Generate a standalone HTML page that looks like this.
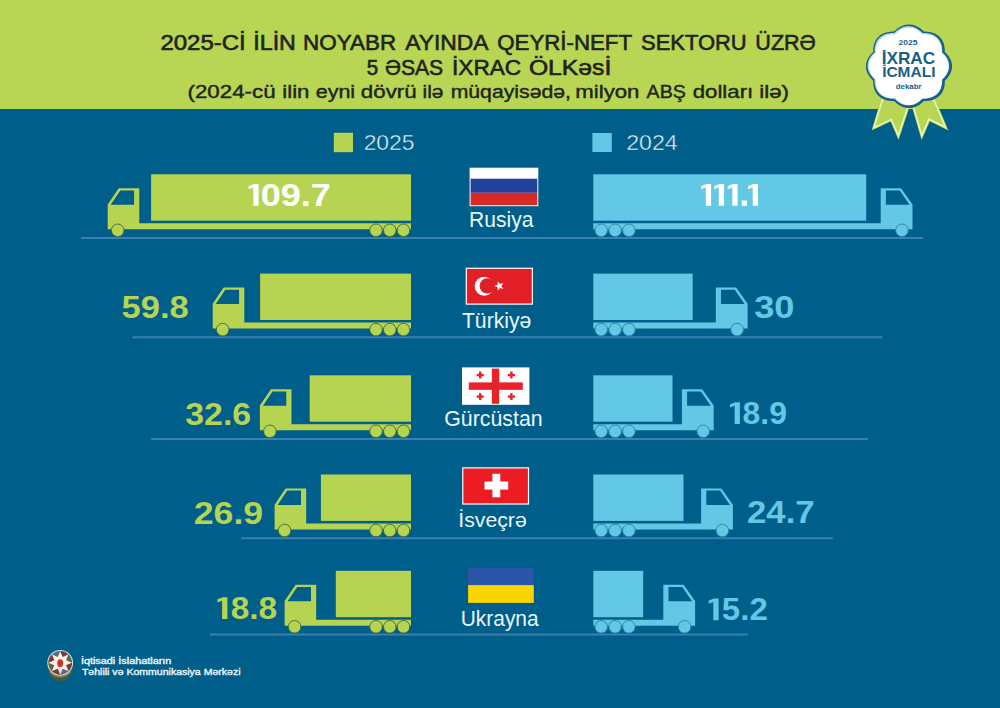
<!DOCTYPE html>
<html><head><meta charset="utf-8"><style>
html,body{margin:0;padding:0;background:#005e8a;}
svg{display:block;}
text{font-family:"Liberation Sans",sans-serif;}
</style></head><body>
<svg width="1000" height="708" viewBox="0 0 1000 708">
<rect x="0" y="0" width="1000" height="708" fill="#005e8a"/>
<rect x="0" y="0" width="1000" height="109" fill="#b8d653"/>
<rect x="333.8" y="132.8" width="19.2" height="19.4" fill="#b6d452"/>
<rect x="592.4" y="133" width="19.4" height="19" fill="#63c8e6"/>
<rect x="81" y="237" width="842" height="2" fill="#3c80af"/>
<rect x="151.1" y="174.3" width="259.9" height="46.4" fill="#b6d452"/>
<path d="M107.7 204.5L118.7 188.2H139.3V223.2H411V229.2H107.7ZM110.7 204.8L120.3 190.4H134.1V204.8Z" fill="#b6d452" fill-rule="evenodd"/>
<circle cx="117.7" cy="230.3" r="6.3" fill="#b6d452" stroke="#3d6a3a" stroke-width="0.9"/>
<circle cx="376" cy="230.3" r="6.3" fill="#b6d452" stroke="#3d6a3a" stroke-width="0.9"/>
<circle cx="389.8" cy="230.3" r="6.3" fill="#b6d452" stroke="#3d6a3a" stroke-width="0.9"/>
<circle cx="403.5" cy="230.3" r="6.3" fill="#b6d452" stroke="#3d6a3a" stroke-width="0.9"/>
<rect x="593.3" y="174.3" width="272.9" height="46.4" fill="#63c8e6"/>
<path d="M912.5 204.5L901 188.2H880.7V223.2H593.3V229.2H912.5ZM909.5 204.8L899.7 190.4H885.9V204.8Z" fill="#63c8e6" fill-rule="evenodd"/>
<circle cx="902" cy="230.3" r="6.3" fill="#63c8e6" stroke="#2f7da5" stroke-width="0.9"/>
<circle cx="601.2" cy="230.3" r="6.3" fill="#63c8e6" stroke="#2f7da5" stroke-width="0.9"/>
<circle cx="615.1" cy="230.3" r="6.3" fill="#63c8e6" stroke="#2f7da5" stroke-width="0.9"/>
<circle cx="628.9" cy="230.3" r="6.3" fill="#63c8e6" stroke="#2f7da5" stroke-width="0.9"/>
<rect x="132.4" y="336.3" width="750" height="2" fill="#3c80af"/>
<rect x="260.1" y="273.6" width="150.9" height="46.4" fill="#b6d452"/>
<path d="M212.7 303.8L223.7 287.5H244.3V322.5H411V328.5H212.7ZM215.7 304.1L225.3 289.7H239.1V304.1Z" fill="#b6d452" fill-rule="evenodd"/>
<circle cx="222.7" cy="329.6" r="6.3" fill="#b6d452" stroke="#3d6a3a" stroke-width="0.9"/>
<circle cx="376" cy="329.6" r="6.3" fill="#b6d452" stroke="#3d6a3a" stroke-width="0.9"/>
<circle cx="389.8" cy="329.6" r="6.3" fill="#b6d452" stroke="#3d6a3a" stroke-width="0.9"/>
<circle cx="403.5" cy="329.6" r="6.3" fill="#b6d452" stroke="#3d6a3a" stroke-width="0.9"/>
<rect x="593.3" y="273.6" width="99.4" height="46.4" fill="#63c8e6"/>
<path d="M747.6 303.8L736.1 287.5H715.8V322.5H593.3V328.5H747.6ZM744.6 304.1L734.8 289.7H721V304.1Z" fill="#63c8e6" fill-rule="evenodd"/>
<circle cx="737.1" cy="329.6" r="6.3" fill="#63c8e6" stroke="#2f7da5" stroke-width="0.9"/>
<circle cx="601.2" cy="329.6" r="6.3" fill="#63c8e6" stroke="#2f7da5" stroke-width="0.9"/>
<circle cx="615.1" cy="329.6" r="6.3" fill="#63c8e6" stroke="#2f7da5" stroke-width="0.9"/>
<circle cx="628.9" cy="329.6" r="6.3" fill="#63c8e6" stroke="#2f7da5" stroke-width="0.9"/>
<rect x="151.1" y="438" width="716.9" height="2" fill="#3c80af"/>
<rect x="309.7" y="375.3" width="101.3" height="46.4" fill="#b6d452"/>
<path d="M259.9 405.5L270.9 389.2H291.5V424.2H411V430.2H259.9ZM262.9 405.8L272.5 391.4H286.3V405.8Z" fill="#b6d452" fill-rule="evenodd"/>
<circle cx="269.9" cy="431.3" r="6.3" fill="#b6d452" stroke="#3d6a3a" stroke-width="0.9"/>
<circle cx="376" cy="431.3" r="6.3" fill="#b6d452" stroke="#3d6a3a" stroke-width="0.9"/>
<circle cx="389.8" cy="431.3" r="6.3" fill="#b6d452" stroke="#3d6a3a" stroke-width="0.9"/>
<circle cx="403.5" cy="431.3" r="6.3" fill="#b6d452" stroke="#3d6a3a" stroke-width="0.9"/>
<rect x="593.3" y="375.3" width="79.2" height="46.4" fill="#63c8e6"/>
<path d="M713.7 405.5L702.2 389.2H681.9V424.2H593.3V430.2H713.7ZM710.7 405.8L700.9 391.4H687.1V405.8Z" fill="#63c8e6" fill-rule="evenodd"/>
<circle cx="703.2" cy="431.3" r="6.3" fill="#63c8e6" stroke="#2f7da5" stroke-width="0.9"/>
<circle cx="601.2" cy="431.3" r="6.3" fill="#63c8e6" stroke="#2f7da5" stroke-width="0.9"/>
<circle cx="615.1" cy="431.3" r="6.3" fill="#63c8e6" stroke="#2f7da5" stroke-width="0.9"/>
<circle cx="628.9" cy="431.3" r="6.3" fill="#63c8e6" stroke="#2f7da5" stroke-width="0.9"/>
<rect x="241" y="537.2" width="591.7" height="2" fill="#3c80af"/>
<rect x="320.9" y="474.5" width="90.1" height="46.4" fill="#b6d452"/>
<path d="M274.6 504.7L285.6 488.4H306.2V523.4H411V529.4H274.6ZM277.6 505L287.2 490.6H301V505Z" fill="#b6d452" fill-rule="evenodd"/>
<circle cx="284.6" cy="530.5" r="6.3" fill="#b6d452" stroke="#3d6a3a" stroke-width="0.9"/>
<circle cx="376" cy="530.5" r="6.3" fill="#b6d452" stroke="#3d6a3a" stroke-width="0.9"/>
<circle cx="389.8" cy="530.5" r="6.3" fill="#b6d452" stroke="#3d6a3a" stroke-width="0.9"/>
<circle cx="403.5" cy="530.5" r="6.3" fill="#b6d452" stroke="#3d6a3a" stroke-width="0.9"/>
<rect x="593.3" y="474.5" width="90.2" height="46.4" fill="#63c8e6"/>
<path d="M732.9 504.7L721.4 488.4H701.1V523.4H593.3V529.4H732.9ZM729.9 505L720.1 490.6H706.3V505Z" fill="#63c8e6" fill-rule="evenodd"/>
<circle cx="722.4" cy="530.5" r="6.3" fill="#63c8e6" stroke="#2f7da5" stroke-width="0.9"/>
<circle cx="601.2" cy="530.5" r="6.3" fill="#63c8e6" stroke="#2f7da5" stroke-width="0.9"/>
<circle cx="615.1" cy="530.5" r="6.3" fill="#63c8e6" stroke="#2f7da5" stroke-width="0.9"/>
<circle cx="628.9" cy="530.5" r="6.3" fill="#63c8e6" stroke="#2f7da5" stroke-width="0.9"/>
<rect x="210" y="633.5" width="537.8" height="2" fill="#3c80af"/>
<rect x="335.8" y="570.8" width="75.2" height="46.4" fill="#b6d452"/>
<path d="M284.6 601L295.6 584.7H316.2V619.7H411V625.7H284.6ZM287.6 601.3L297.2 586.9H311V601.3Z" fill="#b6d452" fill-rule="evenodd"/>
<circle cx="294.6" cy="626.8" r="6.3" fill="#b6d452" stroke="#3d6a3a" stroke-width="0.9"/>
<circle cx="376" cy="626.8" r="6.3" fill="#b6d452" stroke="#3d6a3a" stroke-width="0.9"/>
<circle cx="389.8" cy="626.8" r="6.3" fill="#b6d452" stroke="#3d6a3a" stroke-width="0.9"/>
<circle cx="403.5" cy="626.8" r="6.3" fill="#b6d452" stroke="#3d6a3a" stroke-width="0.9"/>
<rect x="593.3" y="570.8" width="49.9" height="46.4" fill="#63c8e6"/>
<path d="M695.1 601L683.6 584.7H663.3V619.7H593.3V625.7H695.1ZM692.1 601.3L682.3 586.9H668.5V601.3Z" fill="#63c8e6" fill-rule="evenodd"/>
<circle cx="684.6" cy="626.8" r="6.3" fill="#63c8e6" stroke="#2f7da5" stroke-width="0.9"/>
<circle cx="601.2" cy="626.8" r="6.3" fill="#63c8e6" stroke="#2f7da5" stroke-width="0.9"/>
<circle cx="615.1" cy="626.8" r="6.3" fill="#63c8e6" stroke="#2f7da5" stroke-width="0.9"/>
<circle cx="628.9" cy="626.8" r="6.3" fill="#63c8e6" stroke="#2f7da5" stroke-width="0.9"/>
<rect x="469.6" y="167.7" width="68.7" height="38.5" fill="#ffffff"/>
<rect x="470.6" y="178.7" width="66.7" height="14.1" fill="#23409a"/>
<rect x="470.6" y="192.8" width="66.7" height="12.4" fill="#d82b27"/>
<rect x="465.7" y="267.7" width="67.3" height="37" fill="#ffffff"/>
<rect x="466.9" y="268.9" width="64.9" height="34.6" fill="#e21f26"/>
<circle cx="484.2" cy="286.2" r="9.5" fill="#fff"/><circle cx="487.2" cy="285.9" r="7.6" fill="#e21f26"/>
<polygon points="494.3,286 497.64,284.8 497.75,281.24 499.93,284.05 503.35,283.06 501.35,286 503.35,288.94 499.93,287.95 497.75,290.76 497.64,287.2" fill="#fff"/>
<rect x="462" y="367.4" width="67.4" height="37.4" fill="#ffffff"/>
<rect x="491.9" y="368.6" width="7.3" height="35.2" fill="#e8212b"/>
<rect x="468.8" y="382.4" width="54" height="7.4" fill="#e8212b"/>
<rect x="476.7" y="373.8" width="7" height="2.4" fill="#e8212b"/><rect x="479" y="371.5" width="2.4" height="7" fill="#e8212b"/>
<rect x="507.9" y="373.8" width="7" height="2.4" fill="#e8212b"/><rect x="510.2" y="371.5" width="2.4" height="7" fill="#e8212b"/>
<rect x="476.7" y="395.4" width="7" height="2.4" fill="#e8212b"/><rect x="479" y="393.1" width="2.4" height="7" fill="#e8212b"/>
<rect x="507.9" y="395.4" width="7" height="2.4" fill="#e8212b"/><rect x="510.2" y="393.1" width="2.4" height="7" fill="#e8212b"/>
<rect x="462.2" y="467.3" width="66.9" height="37.3" fill="#ffffff"/>
<rect x="463.4" y="468.5" width="64.5" height="34.9" fill="#ec1c24"/>
<rect x="484.5" y="481.5" width="23.7" height="8.1" fill="#fff"/><rect x="492.4" y="473.8" width="7.9" height="23.5" fill="#fff"/>
<rect x="468.1" y="567.9" width="65.7" height="17.2" fill="#2b56a8"/>
<rect x="468.1" y="585.1" width="65.7" height="17.8" fill="#fbd500"/>
<polygon points="882.6,94 871.6,130.4 890.6,121.5 898.5,140 910.8,103" fill="#b8d653"/>
<polygon points="883.6,95.89 874.01,127.62 891.37,119.48 898.33,135.77 908.9,103.97" fill="none" stroke="#eaf5ba" stroke-width="1.6" stroke-linejoin="miter"/>
<polygon points="910.8,103 921.6,140 929.8,121.2 948.4,130.4 933,94" fill="#b8d653"/>
<polygon points="912.62,103.88 921.88,135.61 929.05,119.16 945.44,127.26 932.19,95.95" fill="none" stroke="#eaf5ba" stroke-width="1.6" stroke-linejoin="miter"/>
<path d="M952.05 66.3L952.02 67.39L951.9 68.48L951.71 69.56L951.45 70.63L951.11 71.68L950.71 72.71L950.24 73.72L949.71 74.7L949.13 75.65L948.5 76.58L947.82 77.46L947.1 78.32L946.35 79.14L945.58 79.93L944.78 80.69L944.79 81.77L944.77 82.86L944.7 83.96L944.58 85.06L944.41 86.15L944.19 87.24L943.91 88.31L943.57 89.36L943.16 90.4L942.7 91.4L942.17 92.38L941.58 93.31L940.93 94.21L940.21 95.06L939.44 95.86L938.62 96.6L937.75 97.3L936.82 97.93L935.86 98.5L934.86 99.02L933.82 99.47L932.76 99.86L931.67 100.19L930.56 100.46L929.45 100.68L928.32 100.84L927.19 100.96L926.06 101.03L924.94 101.05L923.82 101.04L923.04 101.81L922.23 102.57L921.38 103.29L920.5 103.99L919.58 104.65L918.63 105.26L917.65 105.83L916.64 106.34L915.61 106.79L914.54 107.18L913.46 107.51L912.36 107.77L911.25 107.95L910.13 108.06L909 108.1L907.87 108.06L906.75 107.95L905.64 107.77L904.54 107.51L903.46 107.18L902.39 106.79L901.36 106.34L900.35 105.83L899.37 105.26L898.42 104.65L897.5 103.99L896.62 103.29L895.77 102.57L894.96 101.81L894.18 101.04L893.06 101.05L891.94 101.03L890.81 100.96L889.68 100.84L888.55 100.68L887.44 100.46L886.33 100.19L885.24 99.86L884.18 99.47L883.14 99.02L882.14 98.5L881.18 97.93L880.25 97.3L879.38 96.6L878.56 95.86L877.79 95.06L877.07 94.21L876.42 93.31L875.83 92.38L875.3 91.4L874.84 90.4L874.43 89.36L874.09 88.31L873.81 87.24L873.59 86.15L873.42 85.06L873.3 83.96L873.23 82.86L873.21 81.77L873.22 80.69L872.42 79.93L871.65 79.14L870.9 78.32L870.18 77.46L869.5 76.58L868.87 75.65L868.29 74.7L867.76 73.72L867.29 72.71L866.89 71.68L866.55 70.63L866.29 69.56L866.1 68.48L865.98 67.39L865.95 66.3L865.98 65.21L866.1 64.12L866.29 63.04L866.55 61.97L866.89 60.92L867.29 59.89L867.76 58.88L868.29 57.9L868.87 56.95L869.5 56.02L870.18 55.14L870.9 54.28L871.65 53.46L872.42 52.67L873.22 51.91L873.21 50.83L873.23 49.74L873.3 48.64L873.42 47.54L873.59 46.45L873.81 45.36L874.09 44.29L874.43 43.24L874.84 42.2L875.3 41.2L875.83 40.22L876.42 39.29L877.07 38.39L877.79 37.54L878.56 36.74L879.38 36L880.25 35.3L881.18 34.67L882.14 34.1L883.14 33.58L884.18 33.13L885.24 32.74L886.33 32.41L887.44 32.14L888.55 31.92L889.68 31.76L890.81 31.64L891.94 31.57L893.06 31.55L894.18 31.56L894.96 30.79L895.77 30.03L896.62 29.31L897.5 28.61L898.42 27.95L899.37 27.34L900.35 26.77L901.36 26.26L902.39 25.81L903.46 25.42L904.54 25.09L905.64 24.83L906.75 24.65L907.87 24.54L909 24.5L910.13 24.54L911.25 24.65L912.36 24.83L913.46 25.09L914.54 25.42L915.61 25.81L916.64 26.26L917.65 26.77L918.63 27.34L919.58 27.95L920.5 28.61L921.38 29.31L922.23 30.03L923.04 30.79L923.82 31.56L924.94 31.55L926.06 31.57L927.19 31.64L928.32 31.76L929.45 31.92L930.56 32.14L931.67 32.41L932.76 32.74L933.82 33.13L934.86 33.58L935.86 34.1L936.82 34.67L937.75 35.3L938.62 36L939.44 36.74L940.21 37.54L940.93 38.39L941.58 39.29L942.17 40.22L942.7 41.2L943.16 42.2L943.57 43.24L943.91 44.29L944.19 45.36L944.41 46.45L944.58 47.54L944.7 48.64L944.77 49.74L944.79 50.83L944.78 51.91L945.58 52.67L946.35 53.46L947.1 54.28L947.82 55.14L948.5 56.02L949.13 56.95L949.71 57.9L950.24 58.88L950.71 59.89L951.11 60.92L951.45 61.97L951.71 63.04L951.9 64.12L952.02 65.21Z" fill="#1a5f86"/>
<path d="M949.19 65.8L949.15 66.84L949.04 67.87L948.86 68.89L948.6 69.9L948.28 70.9L947.89 71.87L947.44 72.82L946.93 73.75L946.37 74.65L945.76 75.52L945.11 76.36L944.42 77.16L943.7 77.93L942.95 78.68L942.18 79.39L942.21 80.41L942.2 81.45L942.14 82.49L942.04 83.53L941.89 84.58L941.69 85.61L941.44 86.63L941.12 87.63L940.75 88.62L940.31 89.57L939.81 90.5L939.26 91.39L938.64 92.24L937.97 93.04L937.24 93.8L936.46 94.51L935.63 95.16L934.76 95.76L933.84 96.3L932.89 96.78L931.9 97.2L930.89 97.57L929.85 97.87L928.8 98.12L927.74 98.32L926.67 98.46L925.59 98.56L924.52 98.61L923.45 98.62L922.39 98.6L921.66 99.34L920.9 100.07L920.1 100.77L919.27 101.44L918.41 102.07L917.52 102.66L916.59 103.21L915.64 103.7L914.65 104.14L913.65 104.52L912.63 104.83L911.58 105.08L910.53 105.26L909.47 105.36L908.4 105.4L907.33 105.36L906.27 105.26L905.22 105.08L904.17 104.83L903.15 104.52L902.15 104.14L901.16 103.7L900.21 103.21L899.28 102.66L898.39 102.07L897.53 101.44L896.7 100.77L895.9 100.07L895.14 99.34L894.41 98.6L893.35 98.62L892.28 98.61L891.21 98.56L890.13 98.46L889.06 98.32L888 98.12L886.95 97.87L885.91 97.57L884.9 97.2L883.91 96.78L882.96 96.3L882.04 95.76L881.17 95.16L880.34 94.51L879.56 93.8L878.83 93.04L878.16 92.24L877.54 91.39L876.99 90.5L876.49 89.57L876.05 88.62L875.68 87.63L875.36 86.63L875.11 85.61L874.91 84.58L874.76 83.53L874.66 82.49L874.6 81.45L874.59 80.41L874.62 79.39L873.85 78.68L873.1 77.93L872.38 77.16L871.69 76.36L871.04 75.52L870.43 74.65L869.87 73.75L869.36 72.82L868.91 71.87L868.52 70.9L868.2 69.9L867.94 68.89L867.76 67.87L867.65 66.84L867.61 65.8L867.65 64.76L867.76 63.73L867.94 62.71L868.2 61.7L868.52 60.7L868.91 59.73L869.36 58.78L869.87 57.85L870.43 56.95L871.04 56.08L871.69 55.24L872.38 54.44L873.1 53.67L873.85 52.92L874.62 52.21L874.59 51.19L874.6 50.15L874.66 49.11L874.76 48.07L874.91 47.03L875.11 45.99L875.36 44.97L875.68 43.97L876.05 42.98L876.49 42.03L876.99 41.1L877.54 40.21L878.16 39.36L878.83 38.56L879.56 37.8L880.34 37.09L881.17 36.44L882.04 35.84L882.96 35.3L883.91 34.82L884.9 34.4L885.91 34.03L886.95 33.73L888 33.48L889.06 33.28L890.13 33.14L891.21 33.04L892.28 32.99L893.35 32.98L894.41 33L895.14 32.26L895.9 31.53L896.7 30.83L897.53 30.16L898.39 29.53L899.28 28.94L900.21 28.39L901.16 27.9L902.15 27.46L903.15 27.08L904.17 26.77L905.22 26.52L906.27 26.34L907.33 26.24L908.4 26.2L909.47 26.24L910.53 26.34L911.58 26.52L912.63 26.77L913.65 27.08L914.65 27.46L915.64 27.9L916.59 28.39L917.52 28.94L918.41 29.53L919.27 30.16L920.1 30.83L920.9 31.53L921.66 32.26L922.39 33L923.45 32.98L924.52 32.99L925.59 33.04L926.67 33.14L927.74 33.28L928.8 33.48L929.85 33.73L930.89 34.03L931.9 34.4L932.89 34.82L933.84 35.3L934.76 35.84L935.63 36.44L936.46 37.09L937.24 37.8L937.97 38.56L938.64 39.36L939.26 40.21L939.81 41.1L940.31 42.03L940.75 42.98L941.12 43.97L941.44 44.97L941.69 45.99L941.89 47.03L942.04 48.07L942.14 49.11L942.2 50.15L942.21 51.19L942.18 52.21L942.95 52.92L943.7 53.67L944.42 54.44L945.11 55.24L945.76 56.08L946.37 56.95L946.93 57.85L947.44 58.78L947.89 59.73L948.28 60.7L948.6 61.7L948.86 62.71L949.04 63.73L949.15 64.76Z" fill="#b9dcea"/>
<path d="M948.56 66.4L948.52 67.41L948.41 68.42L948.23 69.41L947.99 70.4L947.67 71.37L947.29 72.32L946.85 73.25L946.36 74.15L945.81 75.03L945.21 75.87L944.58 76.69L943.9 77.47L943.2 78.23L942.47 78.95L941.73 79.64L941.75 80.64L941.74 81.65L941.69 82.67L941.59 83.69L941.45 84.7L941.25 85.71L941 86.7L940.69 87.68L940.33 88.64L939.9 89.57L939.42 90.47L938.88 91.34L938.28 92.17L937.62 92.96L936.91 93.69L936.15 94.38L935.34 95.02L934.49 95.6L933.6 96.13L932.67 96.6L931.71 97.01L930.72 97.36L929.71 97.66L928.69 97.91L927.65 98.1L926.6 98.24L925.56 98.33L924.51 98.38L923.47 98.39L922.44 98.37L921.73 99.09L920.98 99.8L920.21 100.48L919.4 101.14L918.56 101.75L917.68 102.33L916.78 102.86L915.85 103.34L914.9 103.77L913.92 104.14L912.92 104.44L911.9 104.69L910.88 104.86L909.84 104.96L908.8 105L907.76 104.96L906.72 104.86L905.7 104.69L904.68 104.44L903.68 104.14L902.7 103.77L901.75 103.34L900.82 102.86L899.92 102.33L899.04 101.75L898.2 101.14L897.39 100.48L896.62 99.8L895.87 99.09L895.16 98.37L894.13 98.39L893.09 98.38L892.04 98.33L891 98.24L889.95 98.1L888.91 97.91L887.89 97.66L886.88 97.36L885.89 97.01L884.93 96.6L884 96.13L883.11 95.6L882.26 95.02L881.45 94.38L880.69 93.69L879.98 92.96L879.32 92.17L878.72 91.34L878.18 90.47L877.7 89.57L877.27 88.64L876.91 87.68L876.6 86.7L876.35 85.71L876.15 84.7L876.01 83.69L875.91 82.67L875.86 81.65L875.85 80.64L875.87 79.64L875.13 78.95L874.4 78.23L873.7 77.47L873.02 76.69L872.39 75.87L871.79 75.03L871.24 74.15L870.75 73.25L870.31 72.32L869.93 71.37L869.61 70.4L869.37 69.41L869.19 68.42L869.08 67.41L869.04 66.4L869.08 65.39L869.19 64.38L869.37 63.39L869.61 62.4L869.93 61.43L870.31 60.48L870.75 59.55L871.24 58.65L871.79 57.77L872.39 56.93L873.02 56.11L873.7 55.33L874.4 54.57L875.13 53.85L875.87 53.16L875.85 52.16L875.86 51.15L875.91 50.13L876.01 49.11L876.15 48.1L876.35 47.09L876.6 46.1L876.91 45.12L877.27 44.16L877.7 43.23L878.18 42.33L878.72 41.46L879.32 40.63L879.98 39.84L880.69 39.11L881.45 38.42L882.26 37.78L883.11 37.2L884 36.67L884.93 36.2L885.89 35.79L886.88 35.44L887.89 35.14L888.91 34.89L889.95 34.7L891 34.56L892.04 34.47L893.09 34.42L894.13 34.41L895.16 34.43L895.87 33.71L896.62 33L897.39 32.32L898.2 31.66L899.04 31.05L899.92 30.47L900.82 29.94L901.75 29.46L902.7 29.03L903.68 28.66L904.68 28.36L905.7 28.11L906.72 27.94L907.76 27.84L908.8 27.8L909.84 27.84L910.88 27.94L911.9 28.11L912.92 28.36L913.92 28.66L914.9 29.03L915.85 29.46L916.78 29.94L917.68 30.47L918.56 31.05L919.4 31.66L920.21 32.32L920.98 33L921.73 33.71L922.44 34.43L923.47 34.41L924.51 34.42L925.56 34.47L926.6 34.56L927.65 34.7L928.69 34.89L929.71 35.14L930.72 35.44L931.71 35.79L932.67 36.2L933.6 36.67L934.49 37.2L935.34 37.78L936.15 38.42L936.91 39.11L937.62 39.84L938.28 40.63L938.88 41.46L939.42 42.33L939.9 43.23L940.33 44.16L940.69 45.12L941 46.1L941.25 47.09L941.45 48.1L941.59 49.11L941.69 50.13L941.74 51.15L941.75 52.16L941.73 53.16L942.47 53.85L943.2 54.57L943.9 55.33L944.58 56.11L945.21 56.93L945.81 57.77L946.36 58.65L946.85 59.55L947.29 60.48L947.67 61.43L947.99 62.4L948.23 63.39L948.41 64.38L948.52 65.39Z" fill="#ffffff"/>
<path d="M47.6 664.8Q47.7 679.8 60.2 681.1Q72.7 679.8 72.8 664.8Z" fill="#4f5839"/>
<path d="M49.7 671.8Q60.2 681.8 70.7 671.8" fill="none" stroke="#8c8256" stroke-width="1.3"/>
<circle cx="60.2" cy="662.8" r="12.9" fill="#d3e4e8"/>
<path d="M60.2 662.8L60.2 650.9A11.9 11.9 0 0 1 68.61 654.39Z" fill="#7a3c37"/>
<path d="M60.2 662.8L68.61 654.39A11.9 11.9 0 0 1 72.1 662.8Z" fill="#5b6846"/>
<path d="M60.2 662.8L72.1 662.8A11.9 11.9 0 0 1 68.61 671.21Z" fill="#7a3c37"/>
<path d="M60.2 662.8L68.61 671.21A11.9 11.9 0 0 1 60.2 674.7Z" fill="#526f80"/>
<path d="M60.2 662.8L60.2 674.7A11.9 11.9 0 0 1 51.79 671.21Z" fill="#7a3c37"/>
<path d="M60.2 662.8L51.79 671.21A11.9 11.9 0 0 1 48.3 662.8Z" fill="#5b6846"/>
<path d="M60.2 662.8L48.3 662.8A11.9 11.9 0 0 1 51.79 654.39Z" fill="#7a3c37"/>
<path d="M60.2 662.8L51.79 654.39A11.9 11.9 0 0 1 60.2 650.9Z" fill="#526f80"/>
<polygon points="60.2,651.2 62.65,656.89 68.4,654.6 66.11,660.35 71.8,662.8 66.11,665.25 68.4,671 62.65,668.71 60.2,674.4 57.75,668.71 52,671 54.29,665.25 48.6,662.8 54.29,660.35 52,654.6 57.75,656.89" fill="#f7f1e9"/>
<ellipse cx="60.2" cy="663.2" rx="2.9" ry="3.9" fill="#d62f2b"/>
<path d="M701.2 186L706.6 184H711.1V205.8H705.8V187.6L701.2 189.3Z" fill="#ffffff"/>
<path d="M714.2 186L719.6 184H724.1V205.8H718.8V187.6L714.2 189.3Z" fill="#ffffff"/>
<path d="M727.7 186L733.1 184H737.6V205.8H732.3V187.6L727.7 189.3Z" fill="#ffffff"/>
<path d="M748.1 186L753.5 184H758V205.8H752.7V187.6L748.1 189.3Z" fill="#ffffff"/>
<rect x="741.7" y="200.5" width="5.3" height="5.3" fill="#ffffff"/>
<path d="M248.7 186L254.1 184H258.6V205.8H253.3V187.6L248.7 189.3Z" fill="#ffffff"/>
<path d="M730 404.2L735.4 402.2H739.9V424H734.6V405.8L730 407.5Z" fill="#63c8e6"/>
<path d="M217.5 599.2L222.9 597.2H227.4V619H222.1V600.8L217.5 602.5Z" fill="#b6d452"/>
<path d="M708.7 600.4L714.1 598.4H718.6V620.2H713.3V602L708.7 603.7Z" fill="#63c8e6"/>
<text x="160.42" y="50.1" font-size="21.66" font-weight="normal" fill="#1f2420" stroke="#1f2420" stroke-width="0.6" textLength="85.39" lengthAdjust="spacingAndGlyphs">2025-Cİ</text>
<text x="253.29" y="50.1" font-size="21.66" font-weight="normal" fill="#1f2420" stroke="#1f2420" stroke-width="0.6" textLength="42.61" lengthAdjust="spacingAndGlyphs">İLİN</text>
<text x="303.06" y="50.1" font-size="21.66" font-weight="normal" fill="#1f2420" stroke="#1f2420" stroke-width="0.6" textLength="93.04" lengthAdjust="spacingAndGlyphs">NOYABR</text>
<text x="405.17" y="50.1" font-size="21.66" font-weight="normal" fill="#1f2420" stroke="#1f2420" stroke-width="0.6" textLength="83.4" lengthAdjust="spacingAndGlyphs">AYINDA</text>
<text x="497.23" y="50.1" font-size="21.66" font-weight="normal" fill="#1f2420" stroke="#1f2420" stroke-width="0.6" textLength="134.84" lengthAdjust="spacingAndGlyphs">QEYRİ-NEFT</text>
<text x="641.06" y="50.1" font-size="21.66" font-weight="normal" fill="#1f2420" stroke="#1f2420" stroke-width="0.6" textLength="105.59" lengthAdjust="spacingAndGlyphs">SEKTORU</text>
<text x="755.33" y="50.1" font-size="21.66" font-weight="normal" fill="#1f2420" stroke="#1f2420" stroke-width="0.6" textLength="60.48" lengthAdjust="spacingAndGlyphs">ÜZRƏ</text>
<text x="366.69" y="74.8" font-size="21.2" font-weight="normal" fill="#1f2420" stroke="#1f2420" stroke-width="0.6" textLength="11.41" lengthAdjust="spacingAndGlyphs">5</text>
<text x="385.04" y="74.8" font-size="21.2" font-weight="normal" fill="#1f2420" stroke="#1f2420" stroke-width="0.6" textLength="58.18" lengthAdjust="spacingAndGlyphs">ƏSAS</text>
<text x="452.05" y="74.8" font-size="21.2" font-weight="normal" fill="#1f2420" stroke="#1f2420" stroke-width="0.6" textLength="69.12" lengthAdjust="spacingAndGlyphs">İXRAC</text>
<text x="528.9" y="74.8" font-size="21.2" font-weight="normal" fill="#1f2420" stroke="#1f2420" stroke-width="0.6" textLength="82.43" lengthAdjust="spacingAndGlyphs">ÖLKəsİ</text>
<text x="187.52" y="97.9" font-size="17.91" font-weight="normal" fill="#1f2420" stroke="#1f2420" stroke-width="0.4" textLength="88.04" lengthAdjust="spacingAndGlyphs">(2024-cü</text>
<text x="282.31" y="97.9" font-size="17.91" font-weight="normal" fill="#1f2420" stroke="#1f2420" stroke-width="0.4" textLength="27.12" lengthAdjust="spacingAndGlyphs">ilin</text>
<text x="315.77" y="97.9" font-size="17.91" font-weight="normal" fill="#1f2420" stroke="#1f2420" stroke-width="0.4" textLength="39.39" lengthAdjust="spacingAndGlyphs">eyni</text>
<text x="360.86" y="97.9" font-size="17.91" font-weight="normal" fill="#1f2420" stroke="#1f2420" stroke-width="0.4" textLength="55.72" lengthAdjust="spacingAndGlyphs">dövrü</text>
<text x="422.51" y="97.9" font-size="17.91" font-weight="normal" fill="#1f2420" stroke="#1f2420" stroke-width="0.4" textLength="20.91" lengthAdjust="spacingAndGlyphs">ilə</text>
<text x="450.67" y="97.9" font-size="17.91" font-weight="normal" fill="#1f2420" stroke="#1f2420" stroke-width="0.4" textLength="120.29" lengthAdjust="spacingAndGlyphs">müqayisədə,</text>
<text x="575.28" y="97.9" font-size="17.91" font-weight="normal" fill="#1f2420" stroke="#1f2420" stroke-width="0.4" textLength="64.18" lengthAdjust="spacingAndGlyphs">milyon</text>
<text x="646.58" y="97.9" font-size="17.91" font-weight="normal" fill="#1f2420" stroke="#1f2420" stroke-width="0.4" textLength="39.2" lengthAdjust="spacingAndGlyphs">ABŞ</text>
<text x="692.7" y="97.9" font-size="17.91" font-weight="normal" fill="#1f2420" stroke="#1f2420" stroke-width="0.4" textLength="60.54" lengthAdjust="spacingAndGlyphs">dolları</text>
<text x="759.3" y="97.9" font-size="17.91" font-weight="normal" fill="#1f2420" stroke="#1f2420" stroke-width="0.4" textLength="29.73" lengthAdjust="spacingAndGlyphs">ilə)</text>
<text x="363.66" y="149.8" font-size="21.2" font-weight="normal" fill="#e9f7fb" stroke="#005e8a" stroke-width="0.45" textLength="50.86" lengthAdjust="spacingAndGlyphs">2025</text>
<text x="626.21" y="149.8" font-size="21.2" font-weight="normal" fill="#e9f7fb" stroke="#005e8a" stroke-width="0.45" textLength="51.47" lengthAdjust="spacingAndGlyphs">2024</text>
<text x="260.72" y="205.5" font-size="30.8" font-weight="bold" fill="#ffffff" textLength="70.17" lengthAdjust="spacingAndGlyphs">09.7</text>
<text x="121.56" y="318.4" font-size="30.95" font-weight="bold" fill="#b6d452" textLength="67.14" lengthAdjust="spacingAndGlyphs">59.8</text>
<text x="754.15" y="318.4" font-size="30.95" font-weight="bold" fill="#63c8e6" textLength="40.3" lengthAdjust="spacingAndGlyphs">30</text>
<text x="185.22" y="424.9" font-size="31.66" font-weight="bold" fill="#b6d452" textLength="65.91" lengthAdjust="spacingAndGlyphs">32.6</text>
<text x="742.55" y="424" font-size="30.95" font-weight="bold" fill="#63c8e6" textLength="44.39" lengthAdjust="spacingAndGlyphs">8.9</text>
<text x="193.78" y="524" font-size="31.52" font-weight="bold" fill="#b6d452" textLength="69.43" lengthAdjust="spacingAndGlyphs">26.9</text>
<text x="746.96" y="522.7" font-size="31.09" font-weight="bold" fill="#63c8e6" textLength="67.71" lengthAdjust="spacingAndGlyphs">24.7</text>
<text x="230.72" y="619" font-size="31.52" font-weight="bold" fill="#b6d452" textLength="46.47" lengthAdjust="spacingAndGlyphs">8.8</text>
<text x="721.87" y="620.2" font-size="31.09" font-weight="bold" fill="#63c8e6" textLength="45.88" lengthAdjust="spacingAndGlyphs">5.2</text>
<text x="469.09" y="226.8" font-size="21.51" font-weight="normal" fill="#e9f7fb" textLength="64.25" lengthAdjust="spacingAndGlyphs">Rusiya</text>
<text x="461.95" y="327.9" font-size="21.37" font-weight="normal" fill="#e9f7fb" textLength="69.38" lengthAdjust="spacingAndGlyphs">Türkiyə</text>
<text x="444.29" y="426" font-size="21.22" font-weight="normal" fill="#e9f7fb" textLength="98.31" lengthAdjust="spacingAndGlyphs">Gürcüstan</text>
<text x="458.24" y="526.7" font-size="20.64" font-weight="normal" fill="#e9f7fb" textLength="68.48" lengthAdjust="spacingAndGlyphs">İsveçrə</text>
<text x="460.78" y="625.5" font-size="21.37" font-weight="normal" fill="#e9f7fb" textLength="77.88" lengthAdjust="spacingAndGlyphs">Ukrayna</text>
<text x="80.9" y="663.8" font-size="8.72" font-weight="normal" fill="#e9f7fb" stroke="#e9f7fb" stroke-width="0.35" textLength="90.5" lengthAdjust="spacingAndGlyphs">İqtisadi İslahatların</text>
<text x="81.94" y="675.2" font-size="9.01" font-weight="normal" fill="#e9f7fb" stroke="#e9f7fb" stroke-width="0.35" textLength="158.58" lengthAdjust="spacingAndGlyphs">Təhlili və Kommunikasiya Mərkəzi</text>
<text x="898.54" y="45" font-size="7.02" font-weight="bold" fill="#1a5f86" textLength="18.92" lengthAdjust="spacingAndGlyphs">2025</text>
<text x="881.68" y="63.8" font-size="16.86" font-weight="bold" fill="#1a5f86" textLength="53.49" lengthAdjust="spacingAndGlyphs">İXRAC</text>
<text x="882.15" y="77.4" font-size="13.95" font-weight="bold" fill="#1a5f86" textLength="53.29" lengthAdjust="spacingAndGlyphs">İCMALI</text>
<text x="895.74" y="89.2" font-size="7.13" font-weight="bold" fill="#1a5f86" textLength="25.83" lengthAdjust="spacingAndGlyphs">dekabr</text>
</svg>
</body></html>
